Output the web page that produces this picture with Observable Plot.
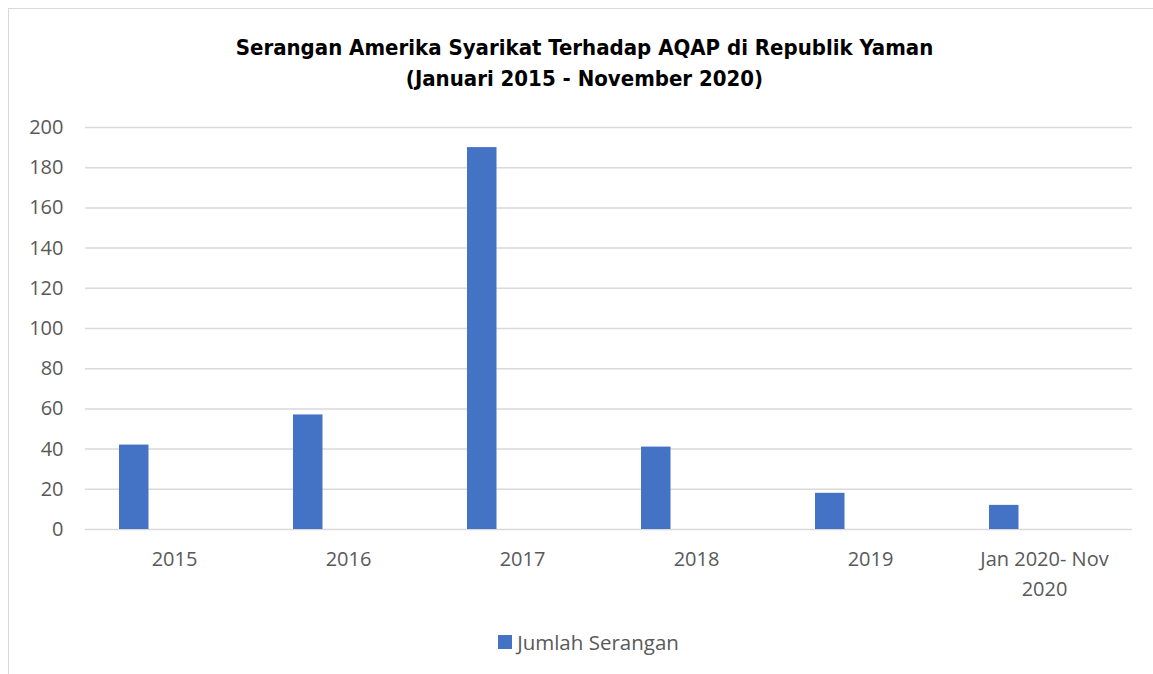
<!DOCTYPE html>
<html>
<head>
<meta charset="utf-8">
<script src="https://cdn.jsdelivr.net/npm/d3@7"></script>
<script src="https://cdn.jsdelivr.net/npm/@observablehq/plot@0.6"></script>
<style>
  html, body { margin: 0; padding: 0; background: #fff; }
  #wrap { position: relative; width: 1153px; height: 674px; overflow: hidden; }
  #border { position: absolute; left: 8px; top: 8px; width: 1200px; height: 720px; border: 1.5px solid #d9d9d9; box-sizing: border-box; }
  #title { position: absolute; left: 8px; top: 32px; width: 1153px; text-align: center;
           font-family: "Liberation Sans Narrow", "DejaVu Sans Condensed", sans-serif; font-weight: bold;
           font-size: 22px; line-height: 31px; color: #000; }
  #chart { position: absolute; left: 0; top: 100px; }
  #legend { position: absolute; left: 8px; top: 626px; width: 1161px; height: 31px; display: flex;
            justify-content: center; align-items: center; font-family: "Open Sans", sans-serif; font-size: 20.5px; color: #595959; }
  #legend .sw { width: 14px; height: 14px; background: #4472C4; margin-right: 5px; }
</style>
</head>
<body>
<div id="wrap">
  <div id="border"></div>
  <div id="title">Serangan Amerika Syarikat Terhadap AQAP di Republik Yaman<br>(Januari 2015 - November 2020)</div>
  <div id="chart"></div>
  <div id="legend"><div class="sw"></div><span>Jumlah Serangan</span></div>
</div>
<script>
const categories = ["2015", "2016", "2017", "2018", "2019", "Jan 2020- Nov 2020"];
const tickLabels = ["2015", "2016", "2017", "2018", "2019", "Jan 2020- Nov\n2020"];
const values = [42, 57, 190, 41, 18, 12];
const seriesName = "Jumlah Serangan";
const yTicks = [0, 20, 40, 60, 80, 100, 120, 140, 160, 180, 200];

const data = categories.map((c, i) => ({category: c, value: values[i], series: seriesName}));
const labelOf = new Map(categories.map((c, i) => [c, tickLabels[i]]));

const chart = Plot.plot({
  width: 1153,
  height: 520,
  marginLeft: 85,
  marginRight: 21,
  marginTop: 27,
  marginBottom: 91,
  style: {fontFamily: "'Open Sans', sans-serif", background: "transparent"},
  x: {type: "band", domain: categories, paddingInner: 0, paddingOuter: 0},
  y: {domain: [0, 200]},
  marks: [
    Plot.gridY(yTicks, {stroke: "#d9d9d9", strokeOpacity: 1, strokeWidth: 1.5}),
    Plot.barY(data, {x: "category", y: "value", fill: "#4472C4", insetLeft: 32, insetRight: 112.5}),
    Plot.axisY(yTicks, {tickSize: 0, tickPadding: 22, fontSize: 20, fill: "#595959", label: null}),
    Plot.axisX({tickSize: 0, tickPadding: 15, fontSize: 20, fill: "#595959", label: null, lineHeight: 1.5,
                tickFormat: d => labelOf.get(d)})
  ]
});
document.getElementById("chart").appendChild(chart);
</script>
</body>
</html>
